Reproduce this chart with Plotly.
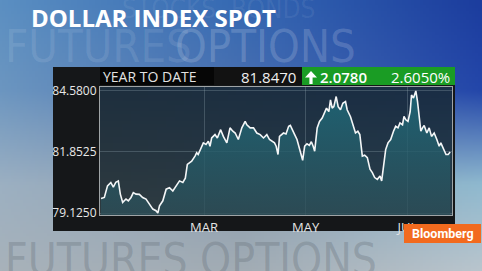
import base64, struct, zlib
import numpy as np
import plotly.graph_objects as go

# ---------------- data ----------------
# x: day of 2013 (Jan 1 = 0), y: Dollar Index Spot level
days = [-2.8,-0.8,1.1,3.1,4.6,6.1,7.6,8.8,10.2,12.2,
        13.6,15.2,16.6,18.2,20.2,22.2,24.2,26.3,28.3,30.2,
        31.3,32.3,34.3,36.3,38.3,40.3,42.3,44.3,46.3,47.8,
        49.0,51.6,53.6,54.6,55.5,57.6,58.6,60.2,61.6,62.6,
        63.6,65.6,67.0,69.0,70.6,72.7,74.6,76.3,77.7,79.6,
        81.7,83.7,84.7,86.7,88.7,90.7,92.7,94.7,96.7,98.3,
        100.1,101.3,102.3,103.4,104.3,105.8,106.7,108.2,109.8,110.8,
        111.8,113.4,114.8,115.8,116.8,118.2,119.4,120.8,122.2,123.4,
        124.5,125.4,126.9,128.3,129.9,131.4,132.5,133.9,134.9,135.9,
        136.9,138.3,139.5,140.9,142.3,143.9,144.9,146.9,148.1,149.9,
        151.3,152.5,154.0,155.4,157.0,158.6,160.0,161.4,163.0,164.6,
        165.6,167.0,168.0,169.4,171.0,172.7,174.0,175.4,176.6,178.1,
        179.0,180.1,181.4,182.7,183.5,184.7,186.1,187.1,188.1,189.1,
        190.1,191.1,192.7,194.1,195.5,197.1,198.7,200.1,201.1,202.8,
        204.2,205.5,206.7]
index_values = [79.77,79.82,80.34,80.49,80.28,80.50,80.56,79.97,79.60,79.75,
        79.67,79.82,80.04,79.97,79.96,79.82,79.75,79.52,79.30,79.23,
        79.125,79.45,79.67,80.19,80.26,80.11,80.34,80.56,80.49,80.68,
        81.30,81.44,81.67,81.82,81.74,82.11,82.26,82.19,82.33,82.11,
        82.48,82.63,82.48,82.85,82.55,82.26,82.93,82.78,82.70,82.41,
        82.93,83.22,83.07,82.93,82.93,82.70,82.63,82.48,82.63,82.41,
        82.33,82.26,82.11,81.74,82.55,82.63,82.70,82.66,83.00,83.04,
        82.85,82.63,82.41,82.11,81.82,81.48,82.11,82.22,82.15,82.31,
        82.11,81.89,82.93,83.22,83.37,83.66,83.81,83.66,84.18,83.81,
        83.88,84.33,83.88,83.74,84.03,84.11,83.74,83.43,83.16,82.70,
        82.78,82.63,81.67,81.71,81.60,81.08,80.93,80.71,80.63,80.78,
        80.56,81.52,81.96,82.26,82.41,82.78,83.00,82.93,83.15,83.07,
        83.44,83.29,83.22,83.66,84.40,84.26,84.58,84.11,83.52,82.78,
        82.93,83.04,82.70,82.93,82.55,82.70,82.41,82.11,82.26,81.96,
        81.74,81.74,81.847]

x_tick_days = [59, 120, 181]
x_tick_labels = ["MAR", "MAY", "JUL"]
y_tick_vals = [79.125, 81.8525, 84.58]
y_tick_labels = ["79.1250", "81.8525", "84.5800"]

title_text = "DOLLAR INDEX SPOT"
period_label = "YEAR TO DATE"
last_value = "81.8470"
net_change = "2.0780"
pct_change = "2.6050%"

# ---------------- geometry helpers ----------------
W, H = 482, 271
ML, MR, MT, MB = 100, 30, 87, 56
PW, PH = W - ML - MR, H - MT - MB

def px(x):  # pixel x -> paper x
    return (x - ML) / PW

def py(y):  # pixel y -> paper y
    return (H - MB - y) / PH

def png_uri(arr):
    h, w, _ = arr.shape
    raw = b"".join(b"\x00" + arr[i].tobytes() for i in range(h))
    def chunk(t, d):
        c = struct.pack(">I", len(d)) + t + d
        return c + struct.pack(">I", zlib.crc32(t + d) & 0xffffffff)
    png = (b"\x89PNG\r\n\x1a\n"
           + chunk(b"IHDR", struct.pack(">IIBBBBB", w, h, 8, 2, 0, 0, 0))
           + chunk(b"IDAT", zlib.compress(raw, 9))
           + chunk(b"IEND", b""))
    return "data:image/png;base64," + base64.b64encode(png).decode()

def hex2rgb(h):
    h = h.lstrip("#")
    return [int(h[i:i + 2], 16) for i in (0, 2, 4)]

def grid_gradient(w, h, xs, ys, colors):
    cols = np.array([[hex2rgb(c) for c in row] for row in colors], float)
    gx = np.linspace(0, 1, w)
    gy = np.linspace(0, 1, h)
    out = np.zeros((h, w, 3))
    for ch in range(3):
        rows = np.array([np.interp(gx, xs, cols[r, :, ch]) for r in range(len(ys))])
        for i in range(w):
            out[:, i, ch] = np.interp(gy, ys, rows[:, i])
    return np.clip(out, 0, 255).astype(np.uint8)

bg = grid_gradient(160, 90, [0, 0.5, 1], [0, 0.33, 0.68, 1],
                   [["#5b8fc2", "#3569b3", "#1c3d9e"],
                    ["#6c96c0", "#4a70b0", "#2447aa"],
                    ["#9cb0c2", "#8c9eb0", "#8fb9cf"],
                    ["#a8b2ba", "#a2acb4", "#b9c5cd"]])
plotbg = grid_gradient(40, 40, [0, 1], [0, 1],
                       [["#1e2f3e", "#1a2e46"],
                        ["#2f3b40", "#2a404c"]])

fig = go.Figure()
fig.add_trace(go.Scatter(
    x=days, y=index_values, mode="lines",
    line=dict(color="#f4f6f7", width=1.6),
    fill="tozeroy",
    fillgradient=dict(type="vertical", start=79.0, stop=84.7,
                      colorscale=[[0, "rgba(44,78,88,0.75)"],
                                  [1, "rgba(30,108,124,0.85)"]]),
    hoverinfo="skip", showlegend=False))

panel = "#151719"
shapes = [
    # dark panel around the plot area
    dict(type="rect", xref="paper", yref="paper", x0=px(53), x1=px(455), y0=py(87), y1=py(67),
         fillcolor=panel, line_width=0, layer="below"),
    dict(type="rect", xref="paper", yref="paper", x0=px(53), x1=px(455), y0=py(231), y1=py(215),
         fillcolor=panel, line_width=0, layer="below"),
    dict(type="rect", xref="paper", yref="paper", x0=px(53), x1=px(100), y0=py(215), y1=py(87),
         fillcolor=panel, line_width=0, layer="below"),
    dict(type="rect", xref="paper", yref="paper", x0=px(452), x1=px(455), y0=py(215), y1=py(87),
         fillcolor=panel, line_width=0, layer="below"),
    # header cells
    dict(type="rect", xref="paper", yref="paper", x0=px(100), x1=px(214), y0=py(85), y1=py(67),
         fillcolor="#060606", line_width=0, layer="below"),
    dict(type="rect", xref="paper", yref="paper", x0=px(214), x1=px(302), y0=py(85), y1=py(67),
         fillcolor="#121212", line_width=0, layer="below"),
    dict(type="rect", xref="paper", yref="paper", x0=px(302), x1=px(455), y0=py(85), y1=py(67),
         fillcolor="#1a9c24", line_width=0, layer="below"),
    # up arrow
    dict(type="path", xref="paper", yref="paper",
         path="M {a},{y1} L {b},{y0} L {c},{y1} L {d},{y1} L {d},{y2} L {e},{y2} L {e},{y1} Z".format(
             a=px(305), b=px(311), c=px(317), d=px(312.6), e=px(309.4),
             y0=py(71), y1=py(77.5), y2=py(84)),
         fillcolor="white", line_width=0, layer="above"),
    # Bloomberg badge
    dict(type="rect", xref="paper", yref="paper", x0=px(404), x1=px(481), y0=py(243), y1=py(224),
         fillcolor="#f26a1e", line_width=0, layer="above"),
]

wm_font = "DejaVu Sans Condensed, Liberation Sans Narrow, sans-serif"
annotations = [
    dict(text="STOCKS  BONDS", x=px(120), y=py(9), xanchor="left", yanchor="middle",
         font=dict(family=wm_font, size=26, color="rgba(255,255,255,0.07)")),
    dict(text="FUTURES", x=px(3), y=py(46), xanchor="left", yanchor="middle",
         font=dict(family=wm_font, size=45, color="rgba(255,255,255,0.10)")),
    dict(text="OPTIONS", x=px(173), y=py(46), xanchor="left", yanchor="middle",
         font=dict(family=wm_font, size=45, color="rgba(255,255,255,0.17)")),
    dict(text="FUTURES OPTIONS", x=px(3), y=py(259), xanchor="left", yanchor="middle",
         font=dict(family=wm_font, size=44, color="rgba(100,110,120,0.32)")),
    dict(text=f"<b>{title_text}</b>", x=px(29), y=py(17), xanchor="left", yanchor="middle",
         font=dict(family="Open Sans, sans-serif", size=24, color="white")),
    dict(text=period_label, x=px(101), y=py(76.5), xanchor="left", yanchor="middle",
         font=dict(family="Open Sans, sans-serif", size=14, color="#e2e2e2")),
    dict(text=last_value, x=px(298), y=py(76.5), xanchor="right", yanchor="middle",
         font=dict(family="Open Sans, sans-serif", size=15, color="#f0f0f0")),
    dict(text=net_change, x=px(318), y=py(76.5), xanchor="left", yanchor="middle",
         font=dict(family="Open Sans, sans-serif", size=15, color="white", weight=600)),
    dict(text=pct_change, x=px(452), y=py(76.5), xanchor="right", yanchor="middle",
         font=dict(family="Open Sans, sans-serif", size=15, color="white")),
    dict(text="<b>Bloomberg</b>", x=px(442.5), y=py(233.5), xanchor="center", yanchor="middle",
         font=dict(family="Roboto, sans-serif", size=12.5, color="white")),
]
for a in annotations:
    a.update(xref="paper", yref="paper", showarrow=False)

images = [
    dict(source=png_uri(bg), xref="paper", yref="paper", x=px(0), y=py(0),
         sizex=W / PW, sizey=H / PH, xanchor="left", yanchor="top", sizing="stretch", layer="below"),
    dict(source=png_uri(plotbg), xref="paper", yref="paper", x=0, y=1,
         sizex=1, sizey=1, xanchor="left", yanchor="top", sizing="stretch", layer="below"),
]

fig.update_layout(
    width=W, height=H,
    margin=dict(l=ML, r=MR, t=MT, b=MB),
    paper_bgcolor="#3a64a8", plot_bgcolor="rgba(0,0,0,0)",
    shapes=shapes, annotations=annotations, images=images,
    xaxis=dict(range=[-3.4, 207.8], tickvals=x_tick_days, ticktext=x_tick_labels,
               showgrid=True, gridcolor="rgba(150,170,180,0.30)", gridwidth=1,
               zeroline=False, showline=True, mirror=True, linecolor="#9fa4a6", linewidth=1,
               ticks="", tickfont=dict(family="Open Sans, sans-serif", size=13, color="#e4e4e4"),
               fixedrange=True),
    yaxis=dict(range=[79.036, 84.757], tickvals=y_tick_vals, ticktext=y_tick_labels,
               showgrid=True, gridcolor="rgba(150,170,180,0.30)", gridwidth=1,
               zeroline=False, showline=True, mirror=True, linecolor="#9fa4a6", linewidth=1,
               ticks="", tickfont=dict(family="Open Sans, sans-serif", size=12, color="#e8e8e8"),
               fixedrange=True),
)

fig.write_html("out.html", config={"displayModeBar": False})
